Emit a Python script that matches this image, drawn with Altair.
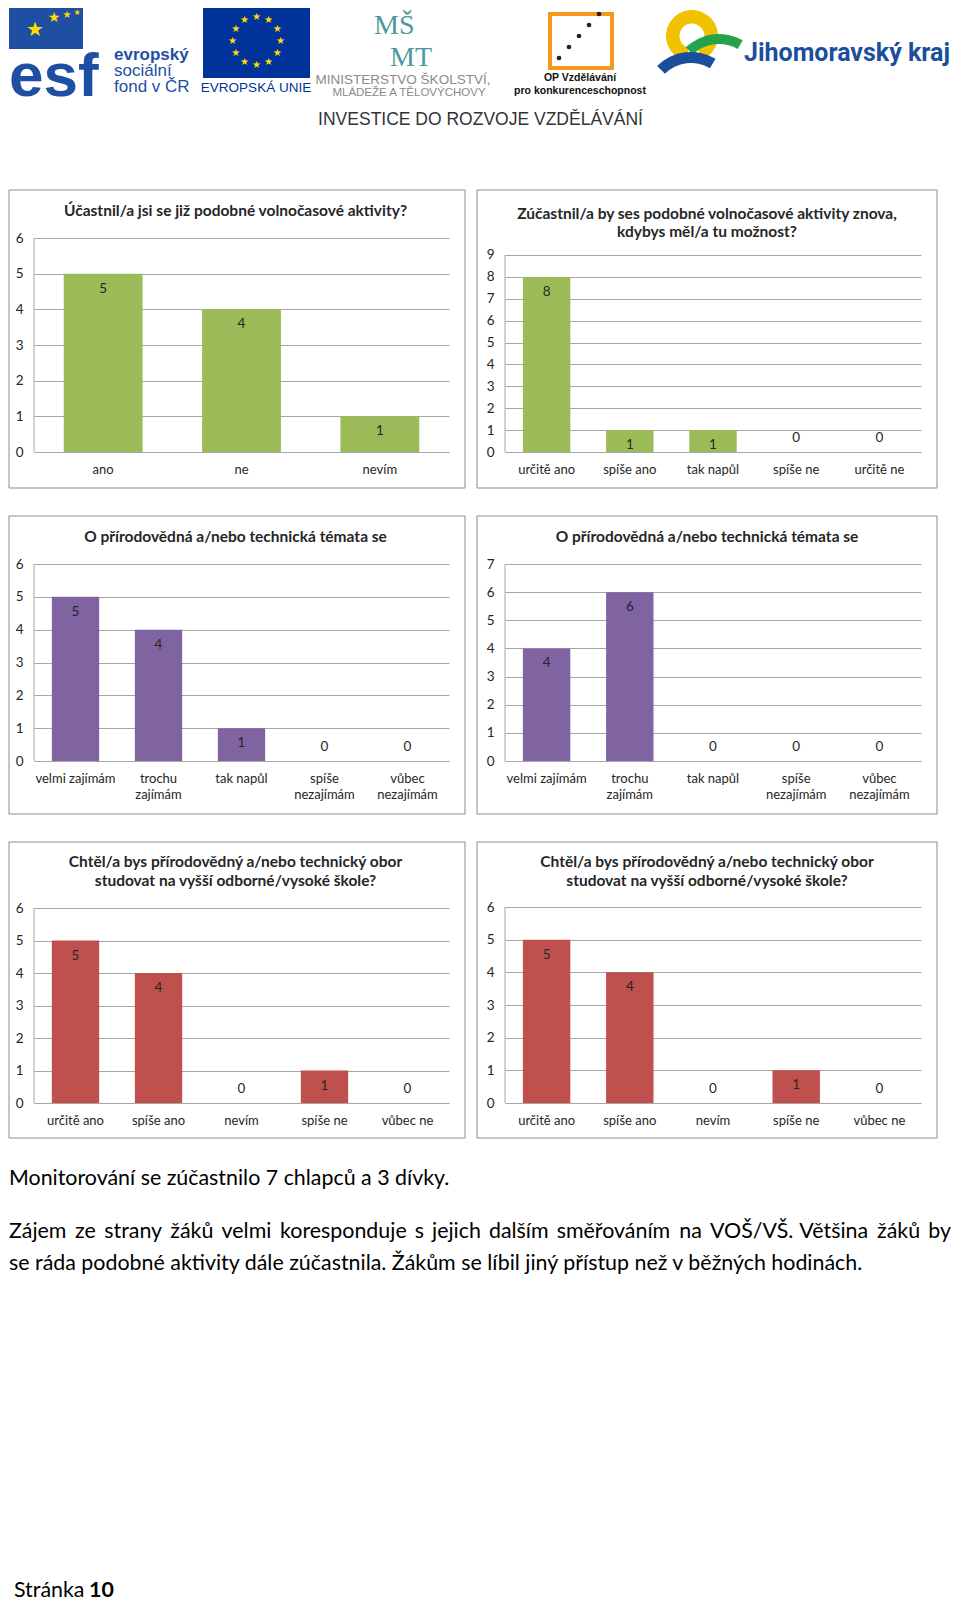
import json
import altair as alt
import pandas as pd

# ---------------- data ----------------
q1_title = ["Účastnil/a jsi se již podobné volnočasové aktivity?"]
q1_cats = ["ano", "ne", "nevím"]
q1_vals = [5, 4, 1]

q2_title = ["Zúčastnil/a by ses podobné volnočasové aktivity znova,", "kdybys měl/a tu možnost?"]
q2_cats = ["určitě ano", "spíše ano", "tak napůl", "spíše ne", "určitě ne"]
q2_vals = [8, 1, 1, 0, 0]

q3_title = ["O přírodovědná a/nebo technická témata se"]
q3_cats = ["velmi zajímám", "trochu zajímám", "tak napůl", "spíše nezajímám", "vůbec nezajímám"]
q3a_vals = [5, 4, 1, 0, 0]
q3b_vals = [4, 6, 0, 0, 0]

q4_title = ["Chtěl/a bys přírodovědný a/nebo technický obor", "studovat na vyšší odborné/vysoké škole?"]
q4_cats = ["určitě ano", "spíše ano", "nevím", "spíše ne", "vůbec ne"]
q4a_vals = [5, 4, 0, 1, 0]
q4b_vals = [5, 4, 0, 1, 0]

wrapped_labels = ["trochu zajímám", "spíše nezajímám", "vůbec nezajímám"]

text_line1 = "Monitorování se zúčastnilo 7 chlapců a 3 dívky."
text_line2_words = ["Zájem", "ze", "strany", "žáků", "velmi", "koresponduje", "s", "jejich",
                    "dalším", "směřováním", "na", "VOŠ/VŠ.", "Většina", "žáků", "by"]
text_line3 = "se ráda podobné aktivity dále zúčastnila. Žákům se líbil jiný přístup než v běžných hodinách."

# ---------------- style ----------------
FONT = "Lato"
TXT = "#262626"
GRID = "#A6A6A6"
BORDER = "#8C8C8C"
GREEN = "#9BBB59"
PURPLE = "#8064A2"
RED = "#C0504D"
OX = 33   # page x of the common origin
OY_FOOT = 1162
BODY = 21.4


def one():
    return pd.DataFrame({"k": [0]})


WRAP_EXPR = ("indexof(" + json.dumps(wrapped_labels, ensure_ascii=False) +
             ", datum.label) >= 0 ? split(datum.label, ' ') : datum.label")


def panel(cats, vals, color, ymax, title_lines, title_ys, gh, dh, pw, L, R, T, B, title_cx):
    df = pd.DataFrame({"cat": cats, "n": vals})
    ytop = round(ymax * gh / dh, 4)
    x = alt.X("cat:N", sort=cats, title=None,
              scale=alt.Scale(paddingInner=0.43, paddingOuter=0.215),
              axis=alt.Axis(labelAngle=0, ticks=False, grid=False, domainColor=GRID,
                            labelPadding=11, labelFont=FONT, labelFontSize=13,
                            labelColor=TXT, labelExpr=WRAP_EXPR, labelLineHeight=16.5,
                            labelBaseline="top"))
    y = alt.Y("n:Q", title=None, scale=alt.Scale(domain=[0, ytop], nice=False),
              axis=alt.Axis(values=list(range(ymax + 1)), format="d", ticks=False,
                            grid=True, gridColor=GRID, domain=False,
                            labelPadding=11, labelFont=FONT, labelFontSize=13.5,
                            labelColor=TXT))
    base = alt.Chart(df)
    bars = base.mark_bar(color=color).encode(x=x, y=y)
    lbl = dict(font=FONT, fontSize=13.5, color=TXT, align="center", baseline="middle")
    pos = base.transform_filter("datum.n > 0").mark_text(dy=15, **lbl).encode(
        x=x, y=y, text="n:Q")
    zero = base.transform_filter("datum.n == 0").mark_text(dy=-14, **lbl).encode(
        x=x, y=y, text="n:Q")
    # left axis line of the plot area (decoration)
    yline = alt.Chart(one()).mark_rule(color=GRID).encode(
        x=alt.value(0), y=alt.value(gh - dh), y2=alt.value(gh))
    box = alt.Chart(one()).mark_rect(fill="white", fillOpacity=0, stroke=BORDER,
                                     strokeWidth=1).encode(
        x=alt.value(-L), x2=alt.value(pw + R), y=alt.value(-T), y2=alt.value(gh + B))
    layers = [box, bars, yline, pos, zero]
    for line, ty in zip(title_lines, title_ys):
        layers.append(alt.Chart(one()).mark_text(
            text=line, font=FONT, fontSize=15.5, fontWeight="bold", color=TXT,
            align="center", baseline="middle").encode(
            x=alt.value(title_cx), y=alt.value(ty - T)))
    return alt.layer(*layers).properties(width=pw, height=gh)


p11 = panel(q1_cats, q1_vals, GREEN, 6, q1_title, [21], 214, 214, 415, 25, 16, 48, 36, 201.5)
p12 = panel(q2_cats, q2_vals, GREEN, 9, q2_title, [24, 42], 214, 197, 416, 28, 16, 48, 36, 202)
p21 = panel(q3_cats, q3a_vals, PURPLE, 6, q3_title, [21], 197, 197, 415, 25, 16, 48, 53, 201.5)
p22 = panel(q3_cats, q3b_vals, PURPLE, 7, q3_title, [21], 197, 197, 416, 28, 16, 48, 53, 202)
p31 = panel(q4_cats, q4a_vals, RED, 6, q4_title, [20, 39], 196, 195, 415, 25, 16, 65, 35, 201.5)
p32 = panel(q4_cats, q4b_vals, RED, 6, q4_title, [19.5, 38.5], 196, 196, 416, 28, 16, 65, 35, 202)


# ---------------- header (logos drawn approximately) ----------------
def txt(t, x, y, size, color, font="Liberation Sans", weight="normal", align="left"):
    return alt.Chart(one()).mark_text(text=t, font=font, fontSize=size, fontWeight=weight,
                                      color=color, align=align, baseline="middle").encode(
        x=alt.value(x), y=alt.value(y))


def rect(x, x2, y, y2, **kw):
    return alt.Chart(one()).mark_rect(**kw).encode(
        x=alt.value(x), x2=alt.value(x2), y=alt.value(y), y2=alt.value(y2))


def arc(cx, cy, r1, r2, t1, t2, color):
    return alt.Chart(one()).mark_arc(innerRadius=r1, outerRadius=r2, theta=t1, theta2=t2,
                                     color=color).encode(x=alt.value(cx), y=alt.value(cy))


ESF_BLUE = "#1F4FA3"
EU_BLUE = "#003399"
STAR = "#FFDD00"
TEAL = "#4A9A9C"
ORANGE = "#F39A1E"
JMK_BLUE = "#1B4F9B"

hdr = []
# ESF
hdr.append(rect(-25, 49, 0, 41, color=ESF_BLUE))
hdr.append(txt("★", 1, 22, 20, STAR, font="DejaVu Sans", align="center"))
hdr.append(txt("★", 20, 10, 14, STAR, font="DejaVu Sans", align="center"))
hdr.append(txt("★", 33, 7, 10, STAR, font="DejaVu Sans", align="center"))
hdr.append(txt("★", 43, 5, 8, STAR, font="DejaVu Sans", align="center"))
hdr.append(txt("esf", -25, 69, 62, ESF_BLUE, weight="bold"))
hdr.append(txt("evropský", 80, 47, 17, ESF_BLUE, weight="bold"))
hdr.append(txt("sociální", 80, 63, 17, ESF_BLUE))
hdr.append(txt("fond v ČR", 80, 79, 17, ESF_BLUE))
# EU flag
hdr.append(rect(169, 276, 0, 70, color=EU_BLUE))
eu_stars = alt.Chart(pd.DataFrame({"i": list(range(12))})).transform_calculate(
    sx="222.5 + 24*sin(datum.i*PI/6)", sy="33 - 24*cos(datum.i*PI/6)"
).mark_text(text="★", font="DejaVu Sans", fontSize=10, color=STAR, baseline="middle").encode(
    x=alt.X("sx:Q", scale=None, axis=None), y=alt.Y("sy:Q", scale=None, axis=None))
hdr.append(eu_stars)
hdr.append(txt("EVROPSKÁ UNIE", 222, 80, 13.5, EU_BLUE, align="center"))
# MSMT
hdr.append(txt("MŠ", 340, 18, 28, TEAL, font="Liberation Serif"))
hdr.append(txt("MT", 356, 50, 28, TEAL, font="Liberation Serif"))
hdr.append(txt("MINISTERSTVO ŠKOLSTVÍ,", 369, 71.5, 13.5, "#8A8A8A", align="center"))
hdr.append(txt("MLÁDEŽE A TĚLOVÝCHOVY", 375, 84.5, 11.5, "#8A8A8A", align="center"))
# OP VK
hdr.append(rect(516, 578, 6, 60, fill="white", fillOpacity=0, stroke=ORANGE, strokeWidth=4))
op_dots = alt.Chart(pd.DataFrame({"i": list(range(5))})).transform_calculate(
    sx="525 + datum.i*10", sy="50 - datum.i*11"
).mark_circle(color="#222222", size=22, opacity=1).encode(
    x=alt.X("sx:Q", scale=None, axis=None), y=alt.Y("sy:Q", scale=None, axis=None))
hdr.append(op_dots)
hdr.append(txt("OP Vzdělávání", 546, 70, 10.5, "#111111", weight="bold", align="center"))
hdr.append(txt("pro konkurenceschopnost", 546, 83, 10.5, "#111111", weight="bold", align="center"))
# Jihomoravsky kraj
hdr.append(arc(658, 28, 12.5, 26, 3.4, 9.0, "#F2C200"))
hdr.append(arc(685, 74, 38, 48, 5.52, 6.80, "#25A24C"))
hdr.append(arc(657, 92, 37, 48, 5.50, 6.82, JMK_BLUE))
hdr.append(txt("Jihomoravský kraj", 916, 45, 25, JMK_BLUE, font="Roboto", weight="bold", align="right"))
# slogan
hdr.append(txt("INVESTICE DO ROZVOJE VZDĚLÁVÁNÍ", 446.5, 112, 17.5, "#333333", align="center"))

header = alt.layer(*hdr).properties(width=900, height=155)

# ---------------- footer text (justified second line) ----------------
# rough advance widths (em) used only to spread the words of the justified line
CW = {".": 0.24, "/": 0.36, "f": 0.30, "t": 0.34, "r": 0.35, "ř": 0.35, "s": 0.40, "š": 0.40,
      "z": 0.44, "ž": 0.44, "c": 0.46, "č": 0.46, "a": 0.48, "á": 0.48, "k": 0.48,
      "v": 0.49, "y": 0.49, "ý": 0.49, "e": 0.50, "é": 0.50, "ě": 0.50, "o": 0.55,
      "m": 0.80, "w": 0.75, "Z": 0.58, "Ž": 0.58, "V": 0.64, "O": 0.75, "Š": 0.50}
for ch in "ijlíĺľ":
    CW[ch] = 0.23
word_w = [sum(CW.get(c, 0.53) for c in w) * 1.04 * BODY for w in text_line2_words]
LEFT, RIGHT = 8, 950
gap = (RIGHT - LEFT - sum(word_w)) / (len(text_line2_words) - 1)
starts = []
cur = LEFT
for wdt in word_w:
    starts.append(cur)
    cur += wdt + gap

ftr = []
ftr.append(txt(text_line1, -25, 1176 - OY_FOOT, BODY, "#000000", font=FONT))
for i, (w, px) in enumerate(zip(text_line2_words, starts)):
    if i == len(text_line2_words) - 1:
        ftr.append(txt(w, RIGHT - OX, 1229 - OY_FOOT, BODY, "#000000", font=FONT, align="right"))
    else:
        ftr.append(txt(w, px - OX, 1229 - OY_FOOT, BODY, "#000000", font=FONT))
ftr.append(txt(text_line3, -25, 1261 - OY_FOOT, BODY, "#000000", font=FONT))
ftr.append(txt("Stránka", 13 - OX, 1588 - OY_FOOT, BODY, "#000000", font=FONT))
ftr.append(txt("10", 88 - OX, 1588 - OY_FOOT, BODY, "#000000", font=FONT, weight="bold"))
footer = alt.layer(*ftr).properties(width=900, height=426)

row1 = alt.hconcat(p11, p12, spacing=10)
row2 = alt.hconcat(p21, p22, spacing=10)
row3 = alt.hconcat(p31, p32, spacing=10)

chart = alt.vconcat(header, row1, row2, row3, footer, spacing=26).properties(
    padding=0
).configure(font=FONT).configure_view(strokeWidth=0)

chart.save("out.html", embed_options={"renderer": "svg", "actions": False})
